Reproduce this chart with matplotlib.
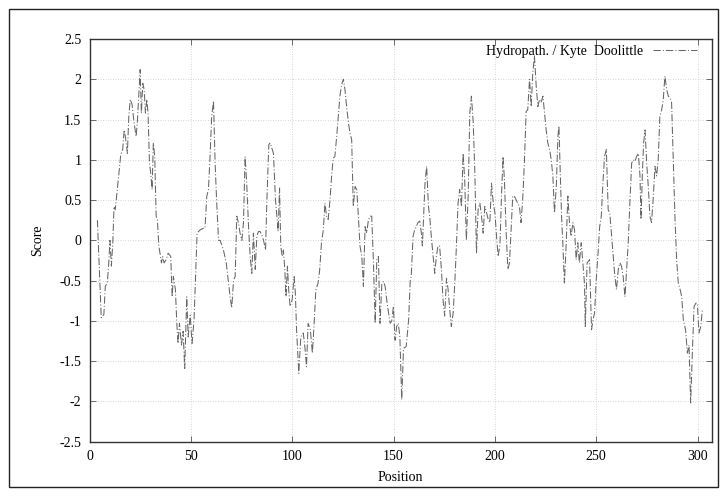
"""Kyte-Doolittle hydropathy profile, gnuplot-style line plot."""
import matplotlib
matplotlib.use('Agg')
import matplotlib.pyplot as plt
from matplotlib.patches import Rectangle

# values (position, score)
position = [
    3.8, 5.7, 7.0, 7.7, 8.7, 9.4, 10.0, 10.7, 11.4, 12.0, 12.6, 13.3, 14.3,
    15.3, 16.3, 17.0, 17.6, 18.6, 19.3, 20.0, 20.9, 21.9, 22.9, 23.5, 24.2,
    24.9, 25.5, 26.2, 26.9, 27.5, 28.2, 28.8, 29.5, 30.1, 30.8, 31.4, 32.1,
    32.8, 33.4, 34.1, 34.7, 35.4, 36.0, 36.7, 37.7, 38.7, 40.0, 40.7, 41.3,
    42.3, 43.0, 43.6, 44.3, 45.3, 46.1, 46.9, 47.9, 48.6, 49.6, 50.5, 51.5,
    52.2, 53.0, 54.5, 56.1, 56.9, 57.8, 58.6, 59.4, 60.2, 61.1, 61.9, 62.7,
    63.6, 64.4, 66.0, 67.4, 68.5, 69.3, 70.1, 71.0, 71.8, 72.6, 73.4, 74.2,
    75.1, 75.9, 76.7, 77.5, 78.4, 79.2, 80.0, 80.8, 81.7, 82.5, 83.3, 84.1,
    84.9, 85.8, 86.8, 87.4, 88.4, 89.1, 90.1, 90.7, 91.7, 92.4, 93.0, 93.7,
    94.3, 95.0, 95.6, 96.3, 96.9, 97.6, 98.2, 98.9, 99.9, 100.9, 101.5,
    102.1, 103.2, 104.2, 105.4, 106.2, 107.0, 107.8, 108.9, 109.9, 110.7,
    111.6, 112.7, 113.5, 114.4, 115.3, 116.1, 116.9, 117.7, 118.6, 119.4,
    120.2, 121.0, 121.9, 122.7, 123.5, 124.3, 125.2, 126.0, 126.8, 127.7,
    128.5, 129.3, 130.1, 131.0, 131.8, 132.6, 133.4, 134.3, 135.1, 135.9,
    136.7, 137.6, 138.4, 139.2, 140.0, 140.9, 141.7, 142.5, 143.3, 144.2,
    145.0, 145.8, 146.6, 147.5, 148.3, 149.1, 149.9, 150.7, 151.5, 152.3,
    153.1, 154.0, 154.9, 156.2, 157.4, 158.2, 158.7, 159.6, 160.4, 161.2,
    162.0, 162.9, 163.7, 164.2, 164.8, 165.5, 166.3, 167.2, 167.8, 168.6,
    169.5, 170.3, 171.1, 171.9, 172.7, 173.6, 174.4, 175.2, 176.1, 176.9,
    177.7, 178.5, 179.4, 180.2, 181.0, 181.8, 182.6, 183.5, 184.3, 185.1,
    185.9, 186.8, 187.6, 188.4, 189.3, 190.1, 190.9, 191.7, 192.6, 193.4,
    194.2, 195.0, 195.9, 196.7, 197.5, 198.3, 199.2, 200.0, 200.8, 201.6,
    202.5, 203.3, 204.0, 204.7, 205.5, 206.4, 207.2, 208.0, 208.8, 209.6,
    210.5, 211.3, 212.1, 212.9, 213.8, 214.6, 215.4, 216.2, 217.1, 217.9,
    218.7, 219.5, 220.4, 221.2, 222.0, 222.8, 223.7, 224.5, 225.3, 226.1,
    227.0, 227.8, 228.6, 229.4, 230.3, 231.1, 231.6, 232.2, 232.9, 233.5,
    234.3, 235.2, 236.0, 236.8, 237.6, 238.5, 239.3, 240.1, 240.9, 241.7,
    242.6, 243.4, 244.2, 244.6, 245.5, 246.7, 247.7, 248.4, 249.2, 250.0,
    250.8, 251.7, 252.5, 253.3, 254.1, 255.0, 255.9, 256.7, 257.5, 258.4,
    259.2, 260.0, 260.9, 261.7, 262.5, 263.3, 264.2, 265.0, 265.8, 266.6,
    267.5, 268.3, 269.1, 269.9, 270.8, 271.6, 272.1, 272.8, 273.4, 274.1,
    274.9, 275.7, 276.5, 277.3, 278.2, 279.0, 279.8, 280.6, 281.4, 282.3,
    283.1, 283.9, 284.8, 285.6, 286.4, 287.2, 288.1, 288.9, 289.7, 290.5,
    291.4, 292.2, 293.0, 294.1, 295.0, 295.8, 296.6, 297.5, 298.3, 299.2,
    299.9, 300.7, 301.6, 302.4,
]
score = [
    0.25, -0.96, -0.92, -0.57, -0.53, -0.28, 0.0, -0.32, -0.03, 0.42, 0.38,
    0.55, 0.8, 1.06, 1.13, 1.37, 1.29, 1.08, 1.54, 1.75, 1.69, 1.46, 1.29,
    1.46, 1.79, 2.12, 1.58, 1.95, 1.87, 1.58, 1.75, 1.58, 0.96, 0.84, 0.63,
    1.21, 1.04, 0.3, 0.26, -0.07, -0.16, -0.28, -0.2, -0.28, -0.24, -0.16,
    -0.2, -0.7, -0.45, -0.61, -1.03, -1.28, -1.03, -1.3, -1.13, -1.59, -0.7,
    -1.2, -0.93, -1.28, -0.99, -0.5, 0.09, 0.13, 0.15, 0.15, 0.55, 0.63,
    1.04, 1.54, 1.73, 0.96, 0.46, 0.0, 0.0, -0.12, -0.28, -0.53, -0.7,
    -0.84, -0.49, -0.45, 0.3, 0.22, 0.09, 0.0, 0.22, 1.04, 0.71, 0.17,
    -0.2, -0.41, 0.09, -0.36, 0.05, 0.11, 0.11, 0.07, 0.0, -0.12, 0.46,
    1.19, 1.21, 1.13, 1.08, 0.5, 0.3, 0.11, 0.65, -0.07, -0.2, -0.12,
    -0.36, -0.7, -0.32, -0.61, -0.82, -0.74, -0.45, -0.65, -1.11, -1.65,
    -1.2, -1.15, -1.32, -1.57, -1.03, -1.11, -1.4, -1.07, -0.62, -0.53,
    -0.37, -0.03, 0.13, 0.46, 0.3, 0.26, 0.5, 0.8, 1.02, 1.04, 1.29, 1.54,
    1.79, 1.93, 2.0, 1.87, 1.66, 1.46, 1.33, 1.25, 0.42, 0.67, 0.63, 0.3,
    -0.07, -0.2, -0.57, 0.17, 0.09, 0.26, 0.3, 0.3, -0.24, -1.03, -0.24,
    -0.2, -1.03, -0.53, -0.51, -0.57, -0.74, -0.9, -1.03, -1.0, -0.82,
    -1.24, -1.07, -1.03, -1.2, -1.98, -1.34, -1.32, -0.99, -0.5, -0.45,
    0.05, 0.13, 0.17, 0.22, 0.24, 0.09, -0.07, 0.3, 0.71, 0.92, 0.42, 0.3,
    0.05, -0.2, -0.41, -0.2, -0.07, -0.07, -0.36, -0.74, -0.94, -0.47,
    -0.61, -0.86, -1.07, -0.9, -0.53, -0.07, 0.46, 0.63, 0.42, 1.08, 0.75,
    0.0, 0.55, 1.58, 1.79, 1.46, 0.84, -0.16, 0.38, 0.46, 0.3, 0.09, 0.42,
    0.34, 0.26, 0.22, 0.71, 0.46, 0.34, 0.05, -0.2, -0.05, 0.59, 1.04,
    0.75, 0.13, -0.36, -0.28, 0.13, 0.55, 0.55, 0.5, 0.46, 0.42, 0.22,
    0.55, 1.0, 1.6, 1.62, 2.0, 1.66, 2.08, 2.29, 1.91, 1.66, 1.75, 1.71,
    1.79, 1.58, 1.37, 1.21, 1.13, 1.0, 0.8, 0.34, 0.67, 1.29, 1.42, 0.88,
    0.3, -0.03, -0.53, -0.03, 0.55, 0.22, 0.05, 0.22, 0.13, -0.24, -0.03,
    -0.28, -0.03, -0.28, -0.53, -1.07, -0.28, -0.24, -1.11, -0.99, -0.9,
    -0.49, -0.2, 0.17, 0.3, 0.71, 1.04, 1.13, 0.38, 0.34, 0.09, -0.2,
    -0.45, -0.61, -0.36, -0.28, -0.32, -0.45, -0.7, -0.36, -0.03, 0.46,
    0.96, 1.0, 0.98, 1.04, 1.08, 0.8, 0.26, 0.84, 1.21, 1.37, 0.96, 0.67,
    0.3, 0.22, 0.55, 0.92, 0.8, 1.0, 1.54, 1.62, 1.75, 2.04, 1.87, 1.79,
    1.77, 1.71, 0.96, 0.26, -0.24, -0.53, -0.61, -0.7, -0.99, -1.11, -1.4,
    -1.3, -2.02, -1.36, -0.82, -0.78, -0.78, -1.15, -1.07, -0.86,
]
series_label = 'Hydropath. / Kyte  Doolittle'
x_ticks = [0, 50, 100, 150, 200, 250, 300]
y_ticks = [-2.5, -2, -1.5, -1, -0.5, 0, 0.5, 1, 1.5, 2, 2.5]

plt.rcParams.update({'font.family': 'Liberation Serif', 'font.size': 10})

W, H = 727, 496
fig = plt.figure(figsize=(W / 100, H / 100), dpi=100)
ax = fig.add_axes([89.7 / W, 1 - 441.7 / H, 622 / W, 402.7 / H])

# outer border round the whole picture
fig.patches.append(Rectangle((9 / W, 9 / H), 709 / W, 478 / H,
                             transform=fig.transFigure, fill=False,
                             lw=1.0, ec='#222222'))

ax.plot(position, score, color='#666666', lw=0.75,
        dashes=(7, 2, 1, 2), label=series_label)

ax.set_xlim(0, 307)
ax.set_ylim(-2.5, 2.5)
ax.set_xticks(x_ticks)
ax.set_yticks(y_ticks)
ax.set_yticklabels([f'{v:g}' for v in y_ticks])
ax.grid(True, color='#c8c8c8', lw=0.6, ls=(0, (1, 2)))
ax.tick_params(direction='in', top=True, right=True, length=4,
               width=0.6, color='#555555', labelsize=10, pad=6)
for sp in ax.spines.values():
    sp.set_linewidth(1.0)
    sp.set_color('#333333')

ax.set_xlabel('Position', labelpad=6)
ax.set_ylabel('Score', labelpad=11)

ax.legend(loc='upper right', markerfirst=False, frameon=False,
          handlelength=3.2, handletextpad=0.7, fontsize=10,
          borderaxespad=0.4, bbox_to_anchor=(0.995, 1.012))

fig.savefig('out.png', dpi=100)
